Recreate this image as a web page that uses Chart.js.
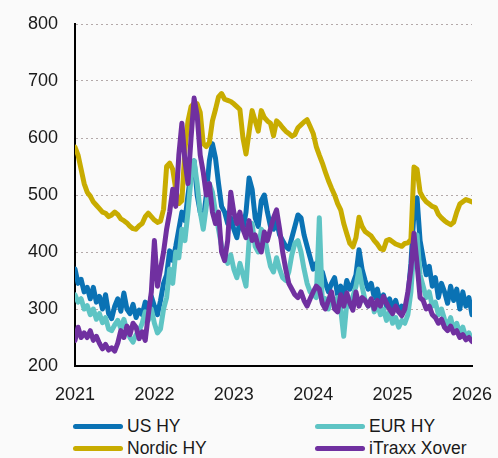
<!DOCTYPE html>
<html lang="en">
  <head>
    <meta charset="UTF-8" />
    <meta name="viewport" content="width=device-width, initial-scale=1.0" />
    <title>High yield spreads</title>
    <style>
      body { margin: 0; background: #fafafa; font-family: "Liberation Sans", Arial, sans-serif; }
      #wrap { position: relative; width: 498px; height: 458px; }
      #myChart { position: absolute; left: 0; top: 0; }
      .item { position: absolute; display: flex; align-items: center; height: 20px; font-size: 17.5px; color: #1a1a1a; white-space: nowrap; }
      .swatch { width: 50px; height: 5px; border-radius: 3px; margin-right: 4px; }
    </style>
  </head>
  <body>
    <div id="wrap">
      <canvas id="myChart" width="498" height="410"></canvas>
      <div class="item" style="left:73px; top:416px"><span class="swatch" style="background:#0a72b4"></span>US HY</div>
      <div class="item" style="left:315px; top:416px"><span class="swatch" style="background:#5ec4c4"></span>EUR HY</div>
      <div class="item" style="left:73px; top:438px"><span class="swatch" style="background:#c8ac00"></span>Nordic HY</div>
      <div class="item" style="left:315px; top:438px"><span class="swatch" style="background:#7030a0"></span>iTraxx Xover</div>
    </div>
    <script src="https://cdn.jsdelivr.net/npm/chart.js@4.4.1/dist/chart.umd.min.js"></script>
    <script>
      // biweekly observations starting Jan 2021
      const startYear = 2021;
      const perYear = 26;
      const years = [2021, 2022, 2023, 2024, 2025, 2026];
      const yTicks = [200, 300, 400, 500, 600, 700, 800];

      const usHY = [370, 345, 352, 330, 338, 318, 338, 312, 322, 300, 325, 292, 283, 305, 318, 296, 328, 300, 292, 308,
        285, 298, 290, 312, 300, 322, 305, 290, 315, 345, 360, 402, 385, 410, 440, 470, 455, 500, 540, 560,
        500, 470, 455, 500, 560, 590, 565, 520, 480, 470, 450, 460, 440, 425, 455, 440, 470, 530, 510, 460,
        445, 490, 500, 470, 445, 440, 455, 430, 420, 410, 405, 425, 445, 465, 460, 430, 410, 390, 370, 380,
        355, 365, 345, 330, 345, 355, 325, 340, 320, 350, 335, 345, 360, 404, 370, 350, 335, 345, 320, 335,
        310, 325, 305, 318, 300, 315, 295, 305, 300, 320, 380, 470, 495, 420, 390, 360, 375, 340, 355, 320,
        345, 330, 310, 340, 315, 335, 300, 330, 305, 320, 290];

      const eurHY = [325, 312, 318, 300, 306, 290, 300, 282, 292, 276, 285, 265, 262, 272, 280, 266, 282, 262, 250, 242,
        255, 262, 275, 295, 280, 300, 275, 258, 265, 300, 320, 370, 345, 400, 390, 440, 420, 470, 530, 560,
        520, 470, 440, 480, 520, 505, 470, 440, 410, 400, 380, 395, 370, 355, 380, 360, 340, 420, 450, 410,
        400, 440, 430, 400, 375, 365, 390, 370, 355, 350, 365, 395, 415, 420, 400, 370, 345, 330, 325, 320,
        460, 310, 318, 300, 322, 310, 320, 300, 252, 310, 305, 322, 340, 370, 340, 315, 305, 318, 295, 310,
        290, 300, 280, 295, 275, 285, 268, 280, 275, 290, 330, 410, 430, 360, 340, 320, 330, 305, 312, 290,
        300, 282, 270, 285, 262, 275, 258, 268, 250, 258, 245];

      const nordicHY = [584, 570, 545, 520, 505, 498, 488, 482, 476, 470, 468, 462, 465, 470, 466, 458, 455, 451, 445, 441,
        440, 446, 450, 462, 468, 462, 456, 452, 454, 475, 550, 556, 545, 510, 485, 490, 580, 630, 655, 661,
        660, 645, 590, 585, 592, 630, 650, 672, 678, 668, 666, 664, 660, 655, 650, 600, 572, 610, 648, 630,
        612, 648, 636, 630, 626, 604, 630, 625, 618, 612, 608, 603, 606, 618, 623, 628, 632, 620, 608, 585,
        570, 556, 540, 525, 512, 500, 485, 474, 450, 432, 415, 409, 425, 461, 445, 436, 432, 428, 420, 414,
        406, 404, 420, 422, 418, 414, 412, 410, 415, 416, 422, 549, 545, 505, 495, 488, 484, 480, 478, 466,
        460, 455, 451, 448, 452, 470, 484, 488, 492, 490, 488];

      const xover = [245, 268, 250, 258, 250, 262, 245, 252, 240, 230, 238, 228, 232, 226, 240, 262, 250, 270, 255, 275,
        268, 248, 260, 245, 290, 330, 420, 340, 370, 400, 440, 470, 510, 480, 570, 626, 560, 520, 600, 670,
        640, 570, 540, 500, 520, 470, 450, 470, 400, 385, 420, 505, 470, 450, 470, 440, 425, 455, 420, 430,
        410, 400, 435, 420, 440, 460, 474, 440, 400, 370, 345, 335, 325, 320, 330, 315, 305, 318, 330, 340,
        335, 310, 300, 315, 330, 300, 295, 325, 305, 328, 310, 298, 330, 305, 320, 315, 305, 318, 300, 315,
        305, 322, 310, 300, 292, 305, 295, 288, 300, 330, 370, 433, 380, 320, 315, 300, 305, 290, 285, 275,
        282, 268, 262, 270, 258, 262, 250, 255, 246, 250, 243];

      function toPoints(values) {
        return values.map((v, i) => ({ x: startYear + i / perYear, y: v }));
      }

      function series(label, values, color) {
        return {
          label: label,
          data: toPoints(values),
          borderColor: color,
          backgroundColor: color,
          borderWidth: 5,
          pointRadius: 0,
          tension: 0,
          borderJoinStyle: "round",
          borderCapStyle: "round",
        };
      }

      const tickFont = { family: "'Liberation Sans', Arial, sans-serif", size: 18 };

      // first dataset is drawn on top
      new Chart("myChart", {
        type: "line",
        data: {
          datasets: [
            series("iTraxx Xover", xover, "#7030a0"),
            series("Nordic HY", nordicHY, "#c8ac00"),
            series("EUR HY", eurHY, "#5ec4c4"),
            series("US HY", usHY, "#0a72b4"),
          ],
        },
        options: {
          responsive: false,
          animation: false,
          layout: { padding: 0 },
          plugins: { legend: { display: false }, tooltip: { enabled: false } },
          scales: {
            x: {
              type: "linear",
              min: 2021,
              max: 2026,
              afterBuildTicks: (s) => { s.ticks = years.map((v) => ({ value: v })); },
              afterFit: (s) => { s.height = 44; s.paddingLeft = 0; s.paddingRight = 26; },
              grid: { display: false, drawTicks: false },
              border: { display: true, color: "#000", width: 2 },
              ticks: { color: "#1a1a1a", font: tickFont, padding: 18, maxRotation: 0, callback: (v) => String(v) },
            },
            y: {
              min: 200,
              max: 800,
              afterBuildTicks: (s) => { s.ticks = yTicks.map((v) => ({ value: v })); },
              afterFit: (s) => { s.width = 75; s.paddingTop = 24; s.paddingBottom = 0; },
              grid: { color: "#b3a9a9", lineWidth: 1, drawTicks: false },
              border: { display: true, color: "#000", width: 2, dash: [2, 3] },
              ticks: { color: "#1a1a1a", font: tickFont, padding: 17 },
            },
          },
        },
      });
    </script>
  </body>
</html>
